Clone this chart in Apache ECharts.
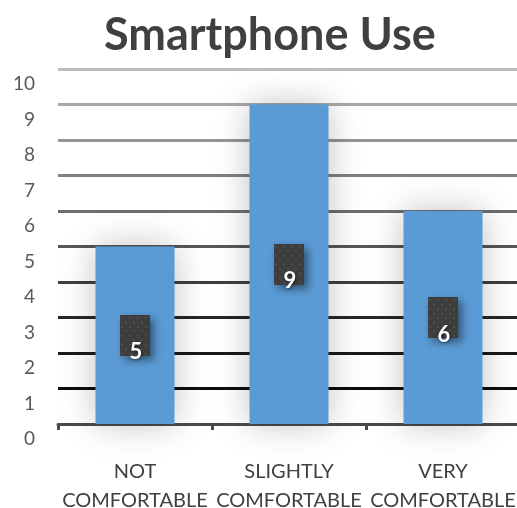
<!DOCTYPE html>
<html>
<head>
<meta charset="utf-8">
<script src="https://cdn.jsdelivr.net/npm/echarts@6/dist/echarts.min.js"></script>
<style>
  html, body { margin: 0; padding: 0; background: #ffffff; }
  #chart { width: 517px; height: 508px; }
</style>
</head>
<body>
<div id="chart"></div>
<script>
// Survey answers: how comfortable people are using a smartphone
const categories = ['NOT\nCOMFORTABLE', 'SLIGHTLY\nCOMFORTABLE', 'VERY\nCOMFORTABLE'];
const counts = [5, 9, 6];
const yTicks = { min: 0, max: 10, step: 1 };

// Gridline shades, from the 0 line up to the 10 line
const gridShades = ['#000000', '#0d0d0d', '#1a1a1a', '#262626', '#3f3f3f', '#575757',
                    '#6e6e6e', '#808080', '#959595', '#a8a8a8', '#bdbdbd'];

// Dark dotted tile used behind the value labels
function dottedTile(w, h) {
  const c = document.createElement('canvas');
  c.width = w; c.height = h;
  const g = c.getContext('2d');
  g.fillStyle = '#3d3d3d';
  g.fillRect(0, 0, w, h);
  g.fillStyle = 'rgba(255,255,255,0.13)';
  for (let row = 0, y = 3; y < h; row++, y += 4.5) {
    for (let x = (row % 2 ? 6 : 2); x < w; x += 8) {
      g.beginPath();
      g.arc(x, y, 1, 0, Math.PI * 2);
      g.fill();
    }
  }
  return c;
}
const tile = dottedTile(30, 41);

const FONT = 'Lato, "Open Sans", sans-serif';

const chart = echarts.init(document.getElementById('chart'), null, { renderer: 'canvas' });
chart.setOption({
  animation: false,
  backgroundColor: '#ffffff',
  title: {
    text: 'Smartphone Use',
    left: 99,
    top: 8,
    textStyle: { fontFamily: FONT, fontWeight: 'bold', fontSize: 45, color: '#404040' }
  },
  grid: { left: 58, right: -3, top: 69, bottom: 84, containLabel: false, outerBoundsMode: 'none' },
  xAxis: {
    type: 'category',
    data: categories,
    axisLine: { lineStyle: { color: '#4a4a4a', width: 3 } },
    axisTick: { show: true, length: 6, lineStyle: { color: '#4a4a4a', width: 3 } },
    axisLabel: {
      fontFamily: FONT, fontSize: 20, color: '#404040',
      lineHeight: 29, margin: 33, interval: 0
    }
  },
  yAxis: {
    type: 'value',
    min: yTicks.min, max: yTicks.max, interval: yTicks.step,
    axisLine: { show: false },
    axisTick: { show: false },
    axisLabel: {
      fontFamily: FONT, fontSize: 19, color: '#595959',
      margin: 23, verticalAlign: 'top', lineHeight: 30
    },
    splitLine: { lineStyle: { color: gridShades, width: 3 } }
  },
  series: [
    {
      type: 'bar',
      data: counts,
      barWidth: 79,
      itemStyle: {
        color: '#5b9bd5',
        shadowBlur: 34,
        shadowColor: 'rgba(0,0,0,0.25)'
      },
      label: {
        show: true,
        position: 'inside',
        formatter: '{tile|}',
        rich: {
          tile: {
            width: 30, height: 41,
            backgroundColor: { image: tile },
            shadowBlur: 8,
            shadowOffsetX: 4,
            shadowOffsetY: 4,
            shadowColor: 'rgba(0,0,0,0.45)'
          }
        }
      },
      z: 2
    },
    {
      type: 'bar',
      data: counts,
      barWidth: 79,
      barGap: '-100%',
      itemStyle: { color: 'rgba(0,0,0,0)' },
      label: {
        show: true,
        position: 'inside',
        offset: [1, 17],
        formatter: '{c}',
        fontFamily: FONT,
        fontWeight: 'bold',
        fontSize: 22,
        color: '#ffffff',
        textShadowColor: 'rgba(0,0,0,0.5)',
        textShadowBlur: 3,
        textShadowOffsetX: 1,
        textShadowOffsetY: 1
      },
      z: 3
    }
  ]
});
</script>
</body>
</html>
